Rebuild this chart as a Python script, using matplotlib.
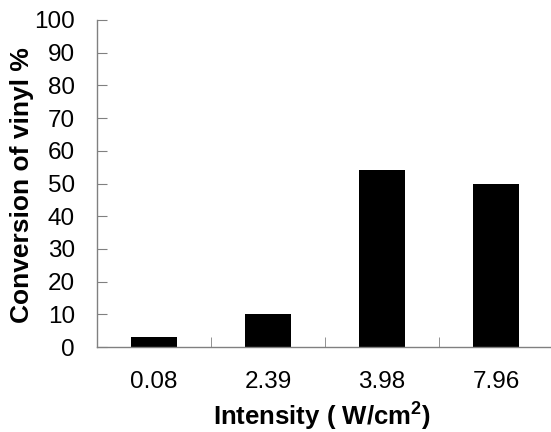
import matplotlib
matplotlib.use('Agg')
import matplotlib.pyplot as plt

# data
intensity = ['0.08', '2.39', '3.98', '7.96']
conversion = [3, 10, 54, 50]
y_ticks = [0, 10, 20, 30, 40, 50, 60, 70, 80, 90, 100]

plt.rcParams['font.family'] = ['Liberation Sans', 'DejaVu Sans']
plt.rcParams['mathtext.fontset'] = 'custom'
plt.rcParams['mathtext.rm'] = 'Liberation Sans'
plt.rcParams['mathtext.bf'] = 'Liberation Sans:bold'

fig = plt.figure(figsize=(5.51, 4.32), dpi=100)
ax = fig.add_axes([97 / 551, 85 / 432, 456 / 551, 327 / 432])

x = list(range(len(intensity)))
ax.bar(x, conversion, width=0.4, color='black')

ax.set_xlim(-0.5, len(intensity) - 0.5)
ax.set_ylim(0, 100)
ax.set_yticks(y_ticks)

# category labels centered, tick marks between categories
ax.set_xticks(x)
ax.set_xticklabels(intensity, fontsize=17.5)
ax.tick_params(axis='x', which='major', length=0, pad=17)
ax.set_xticks([i + 0.5 for i in x[:-1]], minor=True)
ax.tick_params(axis='x', which='minor', direction='in', length=7, color='#808080')

ax.tick_params(axis='y', direction='in', length=7, color='#808080', labelsize=17.5, pad=16)

for s in ['top', 'right']:
    ax.spines[s].set_visible(False)
for s in ['left', 'bottom']:
    ax.spines[s].set_color('#808080')
    ax.spines[s].set_linewidth(1)

ax.set_xlabel(r'Intensity ( W/cm$^{\mathbf{2}}$)', fontsize=18.5, fontweight='bold', va='center')
ax.xaxis.set_label_coords((322 - 97) / 456, (347 - 416) / 327)
ax.set_ylabel('Conversion of vinyl %', fontsize=19, fontweight='bold', va='center')
ax.yaxis.set_label_coords((22 - 97) / 456, (347 - 185) / 327)

fig.savefig('out.png', dpi=100)
